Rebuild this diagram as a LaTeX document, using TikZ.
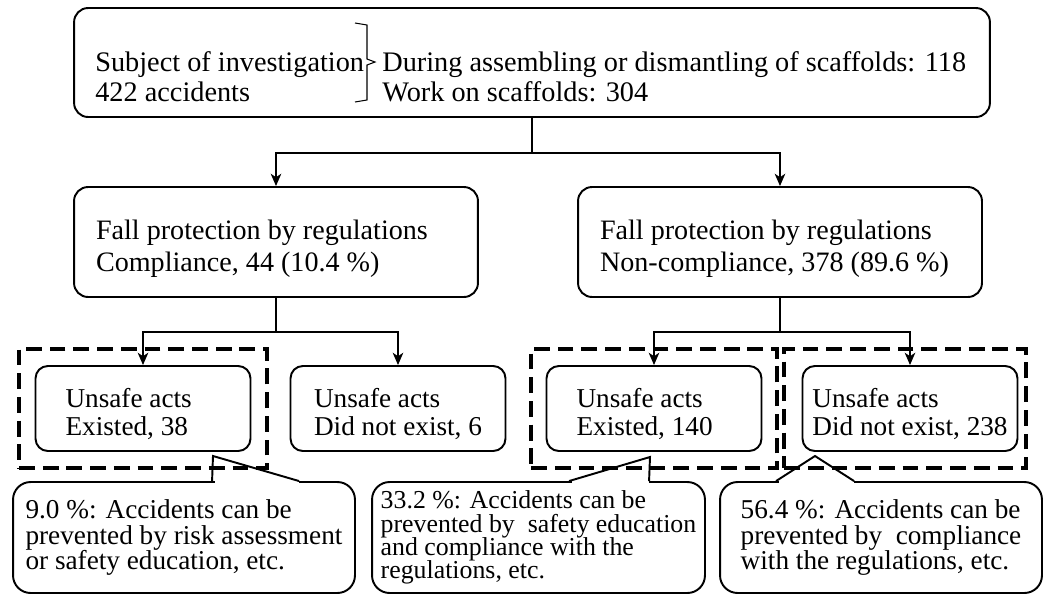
\documentclass[tikz,border=0pt]{standalone}
\usepackage{fontspec}
\setmainfont{Liberation Serif}
\usepackage{tikz}
\usetikzlibrary{positioning,fit,calc,arrows.meta}

\newcommand{\pad}[1]{\rule{0pt}{#1}}
\newcommand{\tightlines}{\setlength{\lineskiplimit}{-20pt}}
\tikzstyle{main}  = [draw, line width=1.1pt, rounded corners=8pt, align=flush left, inner sep=0pt]
\tikzstyle{crit}  = [main, minimum width=8.08cm, minimum height=2.2cm, text width=7.2cm,
                     inner xsep=0.44cm, font=\fontsize{16}{18}\selectfont]
\tikzstyle{act}   = [main, rounded corners=7pt, minimum width=4.3cm, minimum height=1.7cm,
                     font=\fontsize{15.5}{15.9}\selectfont]
\tikzstyle{note}  = [main, rounded corners=10pt, minimum height=2.22cm,
                     font=\fontsize{15.5}{14.4}\selectfont\tightlines]
\tikzstyle{group} = [draw, line width=2.3pt, dash pattern=on 9pt off 4.5pt, inner sep=0pt]
\tikzstyle{wire}  = [draw, line width=0.85pt]
\tikzstyle{arrow} = [wire, -{Stealth[length=7pt,width=6pt,inset=2pt]}]
\tikzstyle{tip}   = [line width=1.1pt]

\begin{document}
\begin{tikzpicture}[x=0.02cm, y=-0.02cm]
    \useasboundingbox (0,0) rectangle (1055,596);

    % subject of the investigation
    \node[main, minimum width=18.32cm, minimum height=2.18cm] (top) at (532,62.5) {};
    \node[anchor=west, align=left, inner sep=0pt, font=\fontsize{16.1}{17}\selectfont]
        (subj) at (95,77) {Subject of investigation\\422 accidents};
    \node[anchor=west, align=left, inner sep=0pt, font=\fontsize{16.1}{17}\selectfont]
        (kind) at (382,77) {During assembling or dismantling of scaffolds: 118\\Work on scaffolds: 304};
    \draw[line width=0.6pt] (355,23) -- (367,25) -- (367,59) -- (375,62)
        -- (367,65) -- (367,100) -- (355,102);

    % fall protection
    \node[crit] (comp)  at (276,242)
        {\pad{19pt}Fall protection by regulations\\Compliance, 44 (10.4 \%)};
    \node[crit] (ncomp) at (780,242)
        {\pad{19pt}Fall protection by regulations\\Non-compliance, 378 (89.6 \%)};
    \draw[wire] (top.south) -- ++(0,35) coordinate (s0);
    \draw[arrow] (s0) -| (comp.north);
    \draw[arrow] (s0) -| (ncomp.north);

    % unsafe acts
    \node[act, inner xsep=0.6cm, text width=3.1cm] (ex1) at (143,408.5)
        {\pad{17.5pt}Unsafe acts\\Existed, 38};
    \node[act] (nx1) at (398,408.5) {\pad{17.5pt}Unsafe acts\\Did not exist, 6};
    \node[act, inner xsep=0.6cm, text width=3.1cm] (ex2) at (654,408.5)
        {\pad{17.5pt}Unsafe acts\\Existed, 140};
    \node[act] (nx2) at (910,408.5) {\pad{17.5pt}Unsafe acts\\Did not exist, 238};
    \draw[wire] (comp.south) -- ++(0,34) coordinate (s1);
    \draw[arrow] (s1) -| (ex1.north);
    \draw[arrow] (s1) -| (nx1.north);
    \draw[wire] (ncomp.south) -- ++(0,34) coordinate (s2);
    \draw[arrow] (s2) -| (ex2.north);
    \draw[arrow] (s2) -| (nx2.north);

    \node[group, fit=(ex1), inner xsep=0.31cm, inner ysep=0.33cm] (g1) {};
    \node[group, fit=(ex2), inner xsep=0.29cm, inner ysep=0.33cm] (g2) {};
    \node[group, fit=(nx2), inner xsep=0.25cm, inner ysep=0.33cm, xshift=-0.1cm] (g3) {};

    % prevention
    \node[note, minimum width=6.84cm] (n1) at (184,537.5)
        {9.0 \%: Accidents can be\\prevented by risk assessment\\or safety education, etc.};
    \node[note, minimum width=6.66cm, font=\fontsize{14.7}{13.2}\selectfont\tightlines]
        (n2) at (538.5,537.5)
        {33.2 \%: Accidents can be\\prevented by\ \ safety education\\and compliance with the\\regulations, etc.};
    \node[note, minimum width=6.44cm] (n3) at (881,537.5)
        {56.4 \%: Accidents can be\\prevented by\ \ compliance\\with the regulations, etc.};

    \coordinate (t1) at (213,456);
    \coordinate (t2) at (650,457);
    \coordinate (t3) at (815,456);
    \fill[white] (214.5,479) rectangle (298.5,485);
    \fill[white] (571.5,479) rectangle (648.5,485);
    \fill[white] (778.5,479) rectangle (853.5,485);
    \draw[tip] (n1.north west) ++(200,0) -- (t1) -- ($(n1.north west)+(287,0)$);
    \draw[tip] (n2.north west) ++(198,0) -- (t2) -- ($(n2.north west)+(278,0)$);
    \draw[tip] (n3.north west) ++(57,0) -- (t3) -- ($(n3.north west)+(135,0)$);
\end{tikzpicture}
\end{document}
